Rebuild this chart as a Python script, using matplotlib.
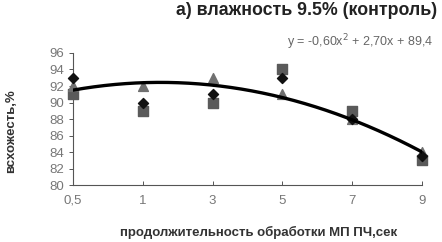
import numpy as np
import matplotlib.pyplot as plt

plt.rcParams['font.family'] = ['Liberation Sans', 'DejaVu Sans']

# duration of treatment, shown as evenly spaced categories
x_labels = ['0,5', '1', '3', '5', '7', '9']
x_pos = np.arange(1, len(x_labels) + 1)

diamond = [93, 90, 91, 93, 88, 83.5]
square = [91, 89, 90, 94, 89, 83]
triangle = [92, 92, 93, 91, 88, 84]

# trend line coefficients as printed on the chart
trend = [-0.60, 2.70, 89.4]

fig = plt.figure(figsize=(4.42, 2.42), dpi=100)
ax = fig.add_axes([0.165, 0.2355, 0.790, 0.5455])

ax.scatter(x_pos, square, marker='s', s=50, color='#5a5a5a', zorder=3, clip_on=False)
ax.scatter(x_pos, triangle, marker='^', s=50, color='#707070', zorder=3, clip_on=False)
ax.scatter(x_pos, diamond, marker='D', s=26, color='#111111', zorder=4, clip_on=False)

xs = np.linspace(1, 6, 200)
ax.plot(xs, np.polyval(trend, xs), color='black', lw=2.4, zorder=5)

ax.set_xlim(1, 6)
ax.set_ylim(80, 96)
ax.set_yticks(np.arange(80, 97, 2))
ax.set_xticks(x_pos)
ax.set_xticklabels(x_labels)

for s in ['top', 'right']:
    ax.spines[s].set_visible(False)
for s in ['left', 'bottom']:
    ax.spines[s].set_color('#555555')
    ax.spines[s].set_linewidth(0.8)

ax.tick_params(axis='y', direction='out', length=3, width=0.7, color='#555555',
               labelsize=9.5, labelcolor='#777777', pad=3)
ax.tick_params(axis='x', direction='in', length=3, width=0.7, color='#555555',
               labelsize=9.5, labelcolor='#777777', pad=7)

ax.set_ylabel('всхожесть,%', fontsize=9.5, fontweight='bold', color='#333333', va='center')
ax.yaxis.set_label_coords(-0.178, 0.41)
ax.set_xlabel('продолжительность обработки МП ПЧ,сек', fontsize=9.5, fontweight='bold',
              color='#333333')
ax.xaxis.set_label_coords(0.533, -0.31)

fig.text(0.99, 0.955, 'а) влажность 9.5% (контроль)', ha='right', va='center',
         fontsize=12.8, fontweight='bold', color='#222222')
fig.text(0.98, 0.825, 'y = -0,60x$^{2}$ + 2,70x + 89,4', ha='right', va='center',
         fontsize=9, color='#666666')

fig.savefig('out.png', dpi=100)
